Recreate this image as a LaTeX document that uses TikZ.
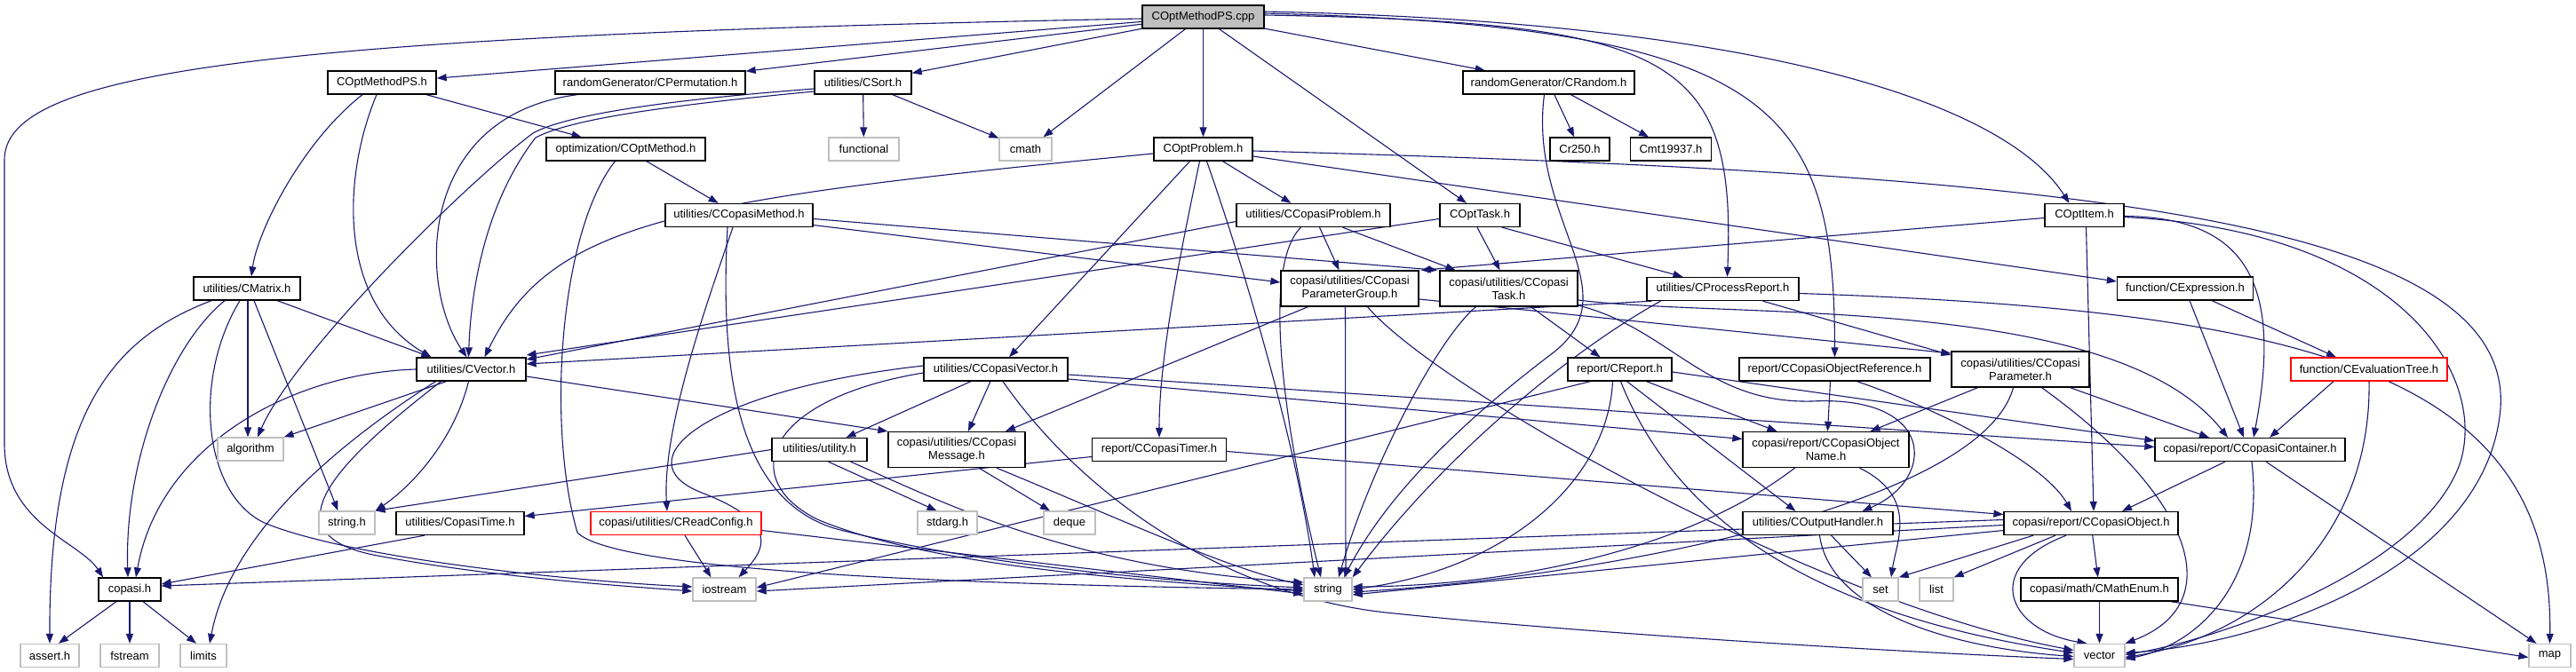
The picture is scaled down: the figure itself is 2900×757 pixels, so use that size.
\documentclass[tikz,border=0pt]{standalone}
\usepackage{fontspec}
\setmainfont{Liberation Sans}
\usetikzlibrary{arrows.meta}
\definecolor{eblue}{HTML}{191970}
\definecolor{sysgray}{HTML}{BFBFBF}
\definecolor{redb}{HTML}{FF0000}
\pgfdeclarelayer{back}
\pgfdeclarelayer{bg}
\pgfsetlayers{back,bg,main}
\tikzset{
  nd/.style={draw=black, line width=1.3pt, fill=white, inner sep=0pt, minimum height=26pt, font=\fontsize{13}{15}\selectfont, align=center},
  nd2/.style={nd, minimum height=40pt},
  sys/.style={nd, draw=sysgray},
  rednd/.style={nd, draw=redb},
  edg/.style={draw=eblue, line width=1.1pt, -{Triangle[length=11pt,width=8pt]}},
}
\begin{document}
\begin{tikzpicture}[x=1pt,y=-1pt]
\begin{pgfonlayer}{back}
\fill[white] (0,0) rectangle (2900,757);
\end{pgfonlayer}
\useasboundingbox (0,0) rectangle (2900,757);
% nodes
\node[nd, minimum width=137, fill=sysgray] (cpp) at (1354.5,19) {COptMethodPS.cpp};
\node[nd, minimum width=122] (optps) at (430,93) {COptMethodPS.h};
\node[nd, minimum width=214] (perm) at (732,93) {randomGenerator/CPermutation.h};
\node[nd, minimum width=109] (csort) at (971.5,93) {utilities/CSort.h};
\node[nd, minimum width=193] (crandom) at (1743.5,93) {randomGenerator/CRandom.h};
\node[nd, minimum width=179] (optmeth) at (704.5,168) {optimization/COptMethod.h};
\node[sys, minimum width=79] (functional) at (972.5,168) {functional};
\node[sys, minimum width=59] (cmath) at (1154.5,168) {cmath};
\node[nd, minimum width=111] (optprob) at (1354.5,168) {COptProblem.h};
\node[nd, minimum width=67] (cr250) at (1778.5,168) {Cr250.h};
\node[nd, minimum width=91] (cmt) at (1881,168) {Cmt19937.h};
\node[nd, minimum width=166] (copmeth) at (832,242.5) {utilities/CCopasiMethod.h};
\node[nd, minimum width=173] (copprob) at (1478.5,242.5) {utilities/CCopasiProblem.h};
\node[nd, minimum width=90] (opttask) at (1666,242.5) {COptTask.h};
\node[nd, minimum width=89] (optitem) at (2346.5,242.5) {COptItem.h};
\node[nd2, minimum width=155] (pgroup) at (1519.5,325) {copasi/utilities/CCopasi\\ParameterGroup.h};
\node[nd2, minimum width=155] (ctask) at (1698.5,325) {copasi/utilities/CCopasi\\Task.h};
\node[nd, minimum width=120] (cmatrix) at (278,325) {utilities/CMatrix.h};
\node[nd, minimum width=171] (procrep) at (1939.5,325.5) {utilities/CProcessReport.h};
\node[nd, minimum width=153] (cexpr) at (2460,325) {function/CExpression.h};
\node[nd, minimum width=123] (cvector) at (530.5,416) {utilities/CVector.h};
\node[nd, minimum width=162] (ccvec) at (1121,416) {utilities/CCopasiVector.h};
\node[nd, minimum width=117] (creport) at (1823.5,416) {report/CReport.h};
\node[nd, minimum width=215] (objref) at (2065.5,416) {report/CCopasiObjectReference.h};
\node[nd2, minimum width=155] (cparam) at (2274.5,416) {copasi/utilities/CCopasi\\Parameter.h};
\node[rednd, minimum width=176] (evaltree) at (2667,416) {function/CEvaluationTree.h};
\node[sys, minimum width=74] (algorithm) at (282,506) {algorithm};
\node[nd, minimum width=107] (utility) at (922.5,506.5) {utilities/utility.h};
\node[nd2, minimum width=154] (message) at (1077,506.5) {copasi/utilities/CCopasi\\Message.h};
\node[nd, minimum width=151] (timer) at (1305,506.5) {report/CCopasiTimer.h};
\node[nd2, minimum width=187] (objname) at (2055.5,506.5) {copasi/report/CCopasiObject\\Name.h};
\node[nd, minimum width=214] (container) at (2533,506.5) {copasi/report/CCopasiContainer.h};
\node[sys, minimum width=63] (stringh) at (390.5,589) {string.h};
\node[nd, minimum width=144] (ctime) at (518,589.5) {utilities/CopasiTime.h};
\node[rednd, minimum width=192] (readcfg) at (761,589.5) {copasi/utilities/CReadConfig.h};
\node[sys, minimum width=67] (stdarg) at (1066.5,589) {stdarg.h};
\node[sys, minimum width=58] (deque) at (1204,589) {deque};
\node[nd, minimum width=169] (outhand) at (2046.5,589.5) {utilities/COutputHandler.h};
\node[nd, minimum width=196] (cobject) at (2354,589.5) {copasi/report/CCopasiObject.h};
\node[nd, minimum width=70] (copasih) at (146,664) {copasi.h};
\node[sys, minimum width=71] (iostream) at (815.5,664) {iostream};
\node[sys, minimum width=54] (string) at (1495,664) {string};
\node[sys, minimum width=40] (set) at (2117,664) {set};
\node[sys, minimum width=38] (list) at (2180,664) {list};
\node[nd, minimum width=177] (mathenum) at (2363.5,664) {copasi/math/CMathEnum.h};
\node[sys, minimum width=66] (asserth) at (56,738.5) {assert.h};
\node[sys, minimum width=66] (fstream) at (146,738.5) {fstream};
\node[sys, minimum width=52] (limits) at (229,738.5) {limits};
\node[sys, minimum width=57] (vector) at (2363.5,738.5) {vector};
\node[sys, minimum width=47] (map) at (2870.5,738.5) {map};
\begin{pgfonlayer}{bg}
% cpp
\draw[edg] ([yshift=-2]cpp.west) .. controls (300,40) and (5,80) .. (5,180) -- (5,500) .. controls (5,590) and (90,610) .. ([xshift=-30]copasih.north);
\draw[edg] (cpp) -- (optps);
\draw[edg] (cpp) -- (perm);
\draw[edg] (cpp) -- (csort);
\draw[edg] ([xshift=-20]cpp.south) -- ([xshift=20]cmath.north);
\draw[edg] (cpp) -- (optprob);
\draw[edg] ([xshift=18]cpp.south) -- ([xshift=-15]opttask.north);
\draw[edg] (cpp) -- (crandom);
\draw[edg] ([yshift=2]cpp.east) .. controls (1880,25) and (1955,60) .. ([xshift=5]procrep.north);
\draw[edg] ([yshift=4]cpp.east) .. controls (2000,30) and (2065,120) .. (objref.north);
\draw[edg] ([yshift=6]cpp.east) .. controls (2000,25) and (2260,120) .. ([xshift=-17]optitem.north);
% optps
\draw[edg] (optps) -- (optmeth);
\draw[edg] ([xshift=-22]optps.south) .. controls (340,160) and (290,260) .. ([xshift=5]cmatrix.north);
\draw[edg] ([xshift=-6]optps.south) .. controls (385,200) and (380,340) .. ([xshift=-45]cvector.north);
% perm
\draw[edg] ([xshift=-82]perm.south) .. controls (470,130) and (470,320) .. ([xshift=-5]cvector.north);
% csort
\draw[edg] (csort) -- (functional);
\draw[edg] (csort) -- (cmath);
\draw[edg] ([yshift=-7]csort.west) .. controls (760,112) and (640,128) .. (600,150) .. controls (520,210) and (330,400) .. ([xshift=8]algorithm.north);
\draw[edg] ([yshift=-10]csort.west) .. controls (760,118) and (645,133) .. (603,155) .. controls (545,230) and (530,330) .. ([xshift=-3]cvector.north);
% crandom
\draw[edg] (crandom) -- (cr250);
\draw[edg] (crandom) -- (cmt);
\draw[edg] ([xshift=-5]crandom.south) .. controls (1720,250) and (1840,330) .. (1745,400) .. controls (1640,480) and (1560,560) .. ([xshift=18]string.north);
% optmeth
\draw[edg] (optmeth) -- (copmeth);
\draw[edg] ([xshift=-12]optmeth.south) .. controls (630,260) and (615,480) .. (650,600) .. controls (700,650) and (1200,660) .. (string.west);
% optprob
\draw[edg] ([yshift=-5]optprob.west) .. controls (760,225) and (620,250) .. ([xshift=15]cvector.north);
\draw[edg] ([xshift=-15]optprob.south) -- ([xshift=15]ccvec.north);
\draw[edg] ([xshift=-4]optprob.south) .. controls (1330,280) and (1305,400) .. (timer.north);
\draw[edg] ([xshift=4]optprob.south) .. controls (1400,300) and (1460,500) .. ([xshift=-15]string.north);
\draw[edg] ([xshift=22]optprob.south) -- ([xshift=-25]copprob.north);
\draw[edg] ([yshift=-8]optprob.east) -- ([yshift=8]cexpr.west);
\draw[edg] ([yshift=-2]optprob.east) .. controls (2300,195) and (2830,240) .. (2815,460) .. controls (2800,640) and (2550,725) .. ([yshift=3]vector.east);
% copmeth
\draw[edg] ([yshift=-11]copmeth.east) -- ([yshift=7]pgroup.west);
\draw[edg] ([yshift=-4]copmeth.east) -- ([xshift=-2]ctask.north west);
\draw[edg] ([xshift=-7]copmeth.south) .. controls (800,330) and (745,480) .. ([xshift=-10]readcfg.north);
\draw[edg] ([xshift=-13]copmeth.south) .. controls (810,420) and (830,570) .. (950,598) .. controls (1100,635) and (1300,655) .. ([yshift=2]string.west);
% copprob
\draw[edg] ([xshift=7]copprob.south) -- ([xshift=-12]pgroup.north);
\draw[edg] ([xshift=33]copprob.south) -- ([xshift=-60]ctask.north);
\draw[edg] ([yshift=-7]copprob.west) -- ([yshift=11]cvector.east);
\draw[edg] ([xshift=-14]copprob.south) .. controls (1420,300) and (1445,480) .. ([xshift=-8]string.north);
% opttask
\draw[edg] ([xshift=-3]opttask.south) -- ([xshift=-10]ctask.north);
\draw[edg] ([xshift=25]opttask.south) -- ([xshift=-45]procrep.north);
\draw[edg] ([yshift=-4]opttask.west) -- ([yshift=16]cvector.east);
% optitem
\draw[edg] ([yshift=-3]optitem.west) -- ([xshift=2]pgroup.north east);
\draw[edg] ([xshift=2]optitem.south) -- ([xshift=3]cobject.north);
\draw[edg] ([yshift=-1]optitem.east) .. controls (2530,245) and (2570,320) .. ([xshift=4]container.north);
\draw[edg] ([yshift=-2]optitem.east) .. controls (2700,260) and (2800,420) .. (2770,520) .. controls (2730,640) and (2500,720) .. ([yshift=1]vector.east);
% pgroup
\draw[edg] ([yshift=-12]pgroup.east) -- ([yshift=18]cparam.west);
\draw[edg] ([xshift=-47]pgroup.south) -- ([xshift=55]message.north);
\draw[edg] ([xshift=-5]pgroup.south) -- ([xshift=20]string.north);
\draw[edg] ([xshift=20]pgroup.south) .. controls (1620,440) and (2050,680) .. ([yshift=6]vector.west);
% ctask
\draw[edg] ([xshift=25]ctask.south) -- ([xshift=-22]creport.north);
\draw[edg] ([yshift=-13]ctask.east) .. controls (1950,360) and (2380,330) .. ([xshift=-25]container.north);
\draw[edg] ([xshift=-37]ctask.south) .. controls (1620,380) and (1545,520) .. ([xshift=12]string.north);
\draw[edg] ([yshift=-19]ctask.east) .. controls (1880,370) and (1920,455) .. (2040,452) .. controls (2180,445) and (2180,540) .. ([xshift=50]outhand.north);
% procrep
\draw[edg] ([xshift=-80]procrep.south) -- ([yshift=6]cvector.east);
\draw[edg] ([yshift=-5]procrep.east) .. controls (2600,350) and (2875,420) .. (map.north);
\draw[edg] ([xshift=-70]procrep.south) .. controls (1760,400) and (1620,520) .. (string.north east);
\draw[edg] ([xshift=45]procrep.south) -- ([yshift=16]cparam.west);
% cexpr
\draw[edg] ([xshift=30]cexpr.south) -- ([xshift=-37]evaltree.north);
\draw[edg] ([xshift=5]cexpr.south) -- ([xshift=-7]container.north);
% cparam
\draw[edg] ([xshift=-48]cparam.south) -- ([xshift=50]objname.north);
\draw[edg] ([xshift=-8]cparam.south) .. controls (2230,570) and (1800,650) .. ([yshift=-3]string.east);
\draw[edg] ([xshift=24]cparam.south) .. controls (2470,560) and (2510,680) .. (vector.north east);
\draw[edg] ([xshift=56]cparam.south) -- ([xshift=-46]container.north);
% evaltree
\draw[edg] ([xshift=-40]evaltree.south) -- ([xshift=22]container.north);
\draw[edg] (evaltree.south) .. controls (2670,600) and (2550,715) .. ([yshift=-2]vector.east);
% container
\draw[edg] ([xshift=-28]container.south) -- ([xshift=35]cobject.north);
\draw[edg] ([xshift=2]container.south) .. controls (2550,650) and (2480,725) .. ([yshift=-4]vector.east);
\draw[edg] ([xshift=18]container.south) -- ([xshift=-15]map.north);
% creport
\draw[edg] ([xshift=-33]creport.south) -- ([yshift=2]iostream.east);
\draw[edg] ([xshift=-8]creport.south) .. controls (1810,540) and (1700,640) .. (string.east);
\draw[edg] ([xshift=30]creport.south) -- ([xshift=-55]objname.north);
\draw[edg] ([xshift=8]creport.south) -- ([xshift=-25]outhand.north);
\draw[edg] ([xshift=1]creport.south) .. controls (1900,620) and (2100,700) .. ([yshift=3]vector.west);
\draw[edg] ([yshift=-3]creport.east) -- ([yshift=10]container.west);
% objref
\draw[edg] ([xshift=-5]objref.south) -- ([xshift=2]objname.north);
\draw[edg] ([xshift=25]objref.south) .. controls (2180,460) and (2300,520) .. ([xshift=-22]cobject.north);
% objname
\draw[edg] ([xshift=-35]objname.south) .. controls (1900,620) and (1700,660) .. ([yshift=3]string.east);
\draw[edg] ([xshift=38]objname.south) .. controls (2160,560) and (2135,610) .. ([xshift=12]set.north);
% outhand
\draw[edg] ([xshift=15]outhand.south) -- ([xshift=-10]set.north);
\draw[edg] ([xshift=2]outhand.south) .. controls (2060,690) and (2200,730) .. ([yshift=-1]vector.west);
% cobject
\draw[edg] (cobject) -- (mathenum);
\draw[edg] ([xshift=-40]cobject.south) -- (list.north east);
\draw[edg] ([xshift=-65]cobject.south) -- (set.north east);
\draw[edg] ([xshift=-28]cobject.south) .. controls (2230,640) and (2260,710) .. ([xshift=-14]vector.north);
\draw[edg] ([yshift=4]cobject.west) -- ([yshift=4]copasih.east);
\draw[edg] ([yshift=-2]cobject.west) -- ([yshift=-2]iostream.east);
\draw[edg] ([yshift=-8]cobject.west) -- ([yshift=-6]string.east);
% mathenum
\draw[edg] (mathenum) -- (vector);
\draw[edg] ([xshift=80]mathenum.south) -- ([yshift=-2]map.west);
% ccvec
\draw[edg] ([xshift=-28]ccvec.south) -- ([xshift=30]utility.north);
\draw[edg] ([xshift=-6]ccvec.south) -- ([xshift=13]message.north);
\draw[edg] ([yshift=4]ccvec.west) .. controls (790,440) and (700,520) .. (790,555) .. controls (880,590) and (860,620) .. ([xshift=16]iostream.north);
\draw[edg] ([yshift=-4]ccvec.west) .. controls (860,450) and (830,540) .. (920,585) .. controls (1050,640) and (1300,655) .. ([yshift=-2]string.west);
\draw[edg] ([xshift=8]ccvec.south) .. controls (1220,560) and (1380,670) .. (1560,690) .. controls (1800,715) and (2150,735) .. ([yshift=-4]vector.west);
\draw[edg] ([yshift=-6]ccvec.east) -- ([yshift=3]container.west);
\draw[edg] ([yshift=-11]ccvec.east) -- ([yshift=12]objname.west);
% message
\draw[edg] ([xshift=25]message.south) -- ([xshift=-22]deque.north);
\draw[edg] ([xshift=45]message.south) .. controls (1250,580) and (1380,640) .. ([yshift=5]string.west);
% utility
\draw[edg] ([xshift=10]utility.south) -- ([xshift=-12]stdarg.north);
\draw[edg] (utility.west) -- (stringh.north east);
\draw[edg] ([xshift=35]utility.south) .. controls (1050,560) and (1200,640) .. ([yshift=8]string.west);
% timer
\draw[edg] ([yshift=-8]timer.west) -- ([yshift=8]ctime.east);
\draw[edg] ([yshift=-2]timer.east) -- ([yshift=10]cobject.west);
% ctime
\draw[edg] ([xshift=-40]ctime.south) -- ([yshift=6]copasih.east);
% readcfg
\draw[edg] ([xshift=10]readcfg.south) -- ([xshift=-15]iostream.north);
\draw[edg] ([yshift=-8]readcfg.east) -- ([yshift=-5]string.west);
% cmatrix
\draw[edg] ([xshift=-40]cmatrix.south) .. controls (130,380) and (55,460) .. (asserth.north);
\draw[edg] ([xshift=-25]cmatrix.south) .. controls (190,390) and (140,520) .. ([xshift=-2]copasih.north);
\draw[edg] ([xshift=-8]cmatrix.south) .. controls (215,430) and (230,560) .. (300,590) .. controls (400,630) and (650,655) .. ([yshift=3]iostream.west);
\draw[edg] ([xshift=1]cmatrix.south) -- ([xshift=-3]algorithm.north);
\draw[edg] ([xshift=8]cmatrix.south) -- ([xshift=-10]stringh.north);
\draw[edg] ([xshift=34]cmatrix.south) -- ([xshift=-45]cvector.north);
% cvector
\draw[edg] (cvector.west) .. controls (330,420) and (180,500) .. ([xshift=7]copasih.north);
\draw[edg] ([xshift=-28]cvector.south) -- (algorithm.north east);
\draw[edg] ([xshift=-40]cvector.south) .. controls (380,500) and (260,600) .. ([xshift=7]limits.north);
\draw[edg] ([xshift=-34]cvector.south) .. controls (380,520) and (300,600) .. (420,625) .. controls (550,650) and (700,660) .. ([yshift=-2]iostream.west);
\draw[edg] ([xshift=-3]cvector.south) .. controls (510,500) and (460,550) .. (stringh.north east);
\draw[edg] ([yshift=-8]cvector.east) -- (message.north west);
% copasih
\draw[edg] ([xshift=-15]copasih.south) -- ([xshift=10]asserth.north);
\draw[edg] (copasih) -- (fstream);
\draw[edg] ([xshift=15]copasih.south) -- ([xshift=-8]limits.north);
\end{pgfonlayer}
\end{tikzpicture}
\end{document}
